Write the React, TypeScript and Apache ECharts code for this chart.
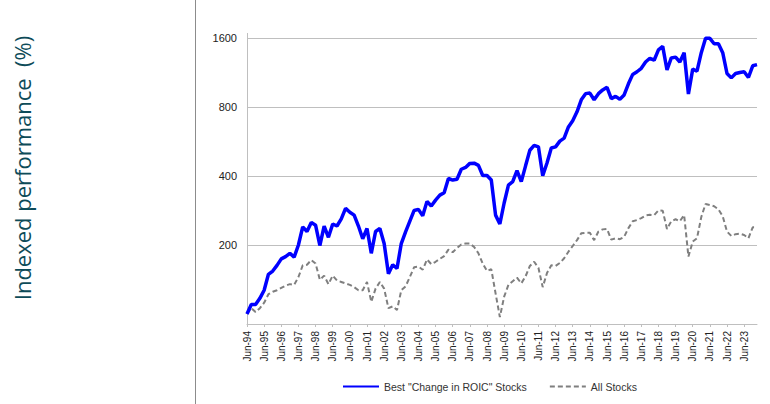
import React, { useEffect, useRef } from "react";
import * as echarts from "echarts";

const MONTHS = ["Jun", "Sep", "Dec", "Mar"];
const FIRST_YEAR = 94;
const QUARTER_COUNT = 120;

const bestChangeROIC = [
  100, 110, 110, 117, 127, 149, 154, 163, 174, 178,
  184, 177, 200, 240, 229, 251, 244, 199, 242, 216,
  247, 242, 260, 289, 278, 270, 242, 213, 236, 184,
  229, 236, 203, 150, 164, 158, 203, 228, 254, 283,
  286, 268, 310, 296, 314, 330, 338, 390, 384, 387,
  428, 436, 454, 455, 445, 402, 402, 384, 270, 247,
  305, 365, 378, 422, 378, 443, 518, 544, 536, 401,
  456, 530, 536, 568, 585, 655, 697, 762, 860, 915,
  920, 860, 915, 950, 975, 870, 890, 865, 903, 1010,
  1110, 1140, 1180, 1257, 1305, 1280, 1420, 1470, 1160, 1310,
  1320, 1257, 1380, 912, 1170, 1146, 1380, 1595, 1595, 1510,
  1510, 1380, 1120, 1072, 1120, 1132, 1140, 1076, 1210, 1224,
];

const allStocks = [
  100, 106, 102, 106, 112, 122, 125, 127, 130, 133,
  135, 134, 145, 163, 164, 172, 166, 141, 147, 135,
  147, 140, 138, 136, 134, 131, 127, 127, 138, 113,
  129, 138, 129, 106, 108, 104, 127, 132, 145, 160,
  161, 156, 173, 165, 169, 174, 179, 191, 186, 194,
  201, 203, 203, 196, 184, 166, 154, 157, 123, 97,
  119, 134, 139, 144, 136, 146, 162, 169, 159, 131,
  151, 163, 162, 167, 175, 187, 198, 210, 225, 226,
  226, 210, 229, 234, 235, 211, 214, 212, 217, 237,
  254, 257, 262, 269, 271, 270, 283, 282, 235, 254,
  259, 254, 270, 178, 207, 214, 265, 302, 299, 295,
  286, 267, 229, 219, 223, 224, 221, 214, 239, 239,
];

const SERIES_NAMES = ['Best "Change in ROIC" Stocks', "All Stocks"];
const Y_TICK_LABELS = [200, 400, 800, 1600];
const BASE_INDEX = 100;

const categories: string[] = [];
for (let i = 0; i < QUARTER_COUNT; i++) {
  const yr = (FIRST_YEAR + Math.floor((i + 1) / 4)) % 100;
  categories.push(MONTHS[i % 4] + "-" + String(yr).padStart(2, "0"));
}

export default function App() {
  const ref = useRef<HTMLDivElement>(null);
  useEffect(() => {
    if (!ref.current) return;
    const chart = echarts.init(ref.current, undefined, { renderer: "svg" });
    const tickFont = "Liberation Sans, Arial, sans-serif";
    chart.setOption({
      animation: false,
      backgroundColor: "#ffffff",
      grid: { left: 247, right: 13, top: 38, bottom: 90, containLabel: false, outerBoundsMode: "none" },
      legend: {
        data: SERIES_NAMES,
        left: 342,
        top: 381,
        padding: 0,
        itemWidth: 36,
        itemHeight: 12,
        itemGap: 22,
        itemStyle: { opacity: 0 },
        textStyle: { fontFamily: tickFont, fontSize: 10.5, color: "#333333" },
      },
      xAxis: {
        type: "category",
        data: categories,
        boundaryGap: false,
        offset: 10,
        axisLine: { show: true, lineStyle: { color: "#bfbfbf", width: 1 } },
        axisTick: {
          show: true,
          length: 3,
          interval: (idx: number) => idx % 4 === 0,
          lineStyle: { color: "#bfbfbf" },
        },
        axisLabel: {
          interval: (idx: number) => idx % 4 === 0,
          rotate: 90,
          margin: 7,
          fontFamily: tickFont,
          fontSize: 10,
          color: "#222222",
        },
        splitLine: { show: false },
      },
      yAxis: {
        type: "log",
        logBase: 2,
        min: 1,
        max: 16,
        axisLine: { show: false },
        axisTick: { show: false },
        axisLabel: {
          margin: 10,
          fontFamily: tickFont,
          fontSize: 11,
          color: "#222222",
          formatter: (v: number) => {
            const val = Math.round(v * BASE_INDEX);
            return Y_TICK_LABELS.indexOf(val) >= 0 ? String(val) : "";
          },
        },
        splitLine: {
          show: true,
          showMinLine: false,
          lineStyle: { color: "#bfbfbf", width: 1 },
        },
      },
      series: [
        {
          name: SERIES_NAMES[0],
          type: "line",
          data: bestChangeROIC.map((v) => v / BASE_INDEX),
          symbol: "none",
          showSymbol: false,
          clip: false,
          lineStyle: { color: "#0000ff", width: 3.5 },
          itemStyle: { color: "#0000ff" },
          z: 3,
        },
        {
          name: SERIES_NAMES[1],
          type: "line",
          data: allStocks.map((v) => v / BASE_INDEX),
          symbol: "none",
          showSymbol: false,
          clip: false,
          lineStyle: { color: "#7f7f7f", width: 2, type: [5, 3] },
          itemStyle: { color: "#7f7f7f" },
          z: 2,
        },
      ],
      graphic: [
        {
          type: "line",
          shape: { x1: 195.5, y1: 0, x2: 195.5, y2: 404 },
          style: { stroke: "#8c8c8c", lineWidth: 1 },
          silent: true,
        },
        {
          type: "line",
          shape: { x1: 247.5, y1: 33, x2: 247.5, y2: 324 },
          style: { stroke: "#bfbfbf", lineWidth: 1 },
          silent: true,
        },
        {
          type: "text",
          x: 22,
          y: 168,
          rotation: Math.PI / 2,
          style: {
            text: "Indexed performance  (%)",
            fontFamily: "Open Sans, Noto Sans, sans-serif",
            fontSize: 22,
            fill: "#0d4b58",
            textAlign: "center",
            textVerticalAlign: "middle",
          },
          silent: true,
        },
      ],
    });
    return () => chart.dispose();
  }, []);
  return (
    <div
      ref={ref}
      style={{ position: "fixed", left: 0, top: 0, width: 770, height: 404, background: "#fff" }}
    />
  );
}
